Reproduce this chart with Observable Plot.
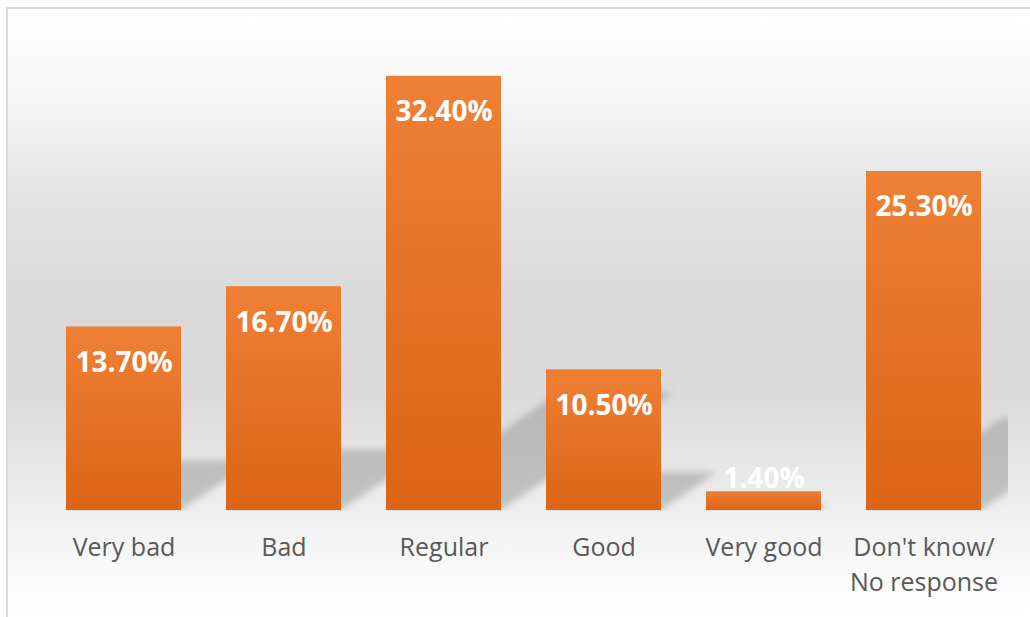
<!DOCTYPE html>
<html>
<head>
<meta charset="utf-8">
<script src="https://cdn.jsdelivr.net/npm/d3@7"></script>
<script src="https://cdn.jsdelivr.net/npm/@observablehq/plot@0.6"></script>
<style>
  html, body { margin: 0; padding: 0; background: #fff; }
  #frame {
    position: absolute; left: 6px; top: 7px; width: 1030px; height: 620px;
    border: 2px solid #d9d9d9; box-sizing: border-box;
    background: linear-gradient(to bottom, #ffffff 0%, #f6f6f6 15%, #e2e2e2 32%, #d9d9d9 50%, #dcdcdc 64%, #ededed 80%, #fbfbfb 92%, #ffffff 100%);
  }
  #chart { position: absolute; left: 0; top: 0; }
  svg { background: transparent !important; }
</style>
</head>
<body>
<div id="frame"></div>
<div id="chart"></div>
<script>
const categories = ["Very bad", "Bad", "Regular", "Good", "Very good", "Don't know/\nNo response"];
const values = [13.7, 16.7, 32.4, 10.5, 1.4, 25.3];
const labels = ["13.70%", "16.70%", "32.40%", "10.50%", "1.40%", "25.30%"];

const rows = categories.map((c, i) => ({cat: c, value: values[i], label: labels[i]}));

const FONT = "'Open Sans', Carlito, Calibri, sans-serif";

const shadows = Plot.barY(rows, {
  x: "cat", y: "value",
  render(index, scales, vals, dims) {
    const {x, y} = scales;
    const bw = x.bandwidth();
    const base = y(0);
    const g = d3.create("svg:g");
    const defs = g.append("defs");
    defs.append("filter").attr("id", "shblur").attr("x", "-50%").attr("y", "-50%").attr("width", "200%").attr("height", "200%")
      .append("feGaussianBlur").attr("stdDeviation", 3.5);
    defs.append("clipPath").attr("id", "shclip").append("rect")
      .attr("x", 0).attr("y", 0).attr("width", dims.width - 22).attr("height", base + 1);
    const inner = g.append("g").attr("clip-path", "url(#shclip)").append("g").attr("filter", "url(#shblur)");
    for (const i of index) {
      const d = rows[i];
      const x0 = x(d.cat), x1 = x0 + bw;
      const h = base - y(d.value);
      const sh = 0.27 * h, dx = 1.47 * sh;
      inner.append("polygon")
        .attr("points", [[x0, base], [x1, base], [x1 + dx, base - sh], [x0 + dx, base - sh]].map(p => p.join(",")).join(" "))
        .attr("fill", "#8c8c8c").attr("fill-opacity", 0.45);
    }
    return g.node();
  }
});

const plot = Plot.plot({
  width: 1030,
  height: 617,
  marginLeft: 41,
  marginRight: 25,
  marginTop: 41,
  marginBottom: 107,
  style: {background: "transparent"},
  x: {domain: categories, paddingInner: 0.284, paddingOuter: 0.142, axis: null},
  y: {domain: [0, 35], axis: null},
  marks: [
    shadows,
    Plot.barY(rows, {x: "cat", y: "value", fill: "url(#orangeGrad)"}),
    Plot.text(rows.filter(d => d.value >= 5), {
      x: "cat", y: "value", text: "label", dy: 36, lineAnchor: "middle",
      fill: "white", fontSize: 28, fontWeight: "bold", fontFamily: FONT
    }),
    Plot.text(rows.filter(d => d.value < 5), {
      x: "cat", y: "value", text: "label", dy: -13, lineAnchor: "middle",
      fill: "white", fontSize: 28, fontWeight: "bold", fontFamily: FONT
    }),
    Plot.text(rows, {
      x: "cat", y: 0, text: "cat", dy: 21, lineAnchor: "top", lineHeight: 1.4,
      fill: "#595959", fontSize: 25, fontFamily: FONT
    })
  ]
});

const svgSel = d3.select(plot);
const defs = svgSel.insert("defs", ":first-child");
const grad = defs.append("linearGradient").attr("id", "orangeGrad").attr("x1", 0).attr("y1", 0).attr("x2", 0).attr("y2", 1);
grad.append("stop").attr("offset", "0%").attr("stop-color", "#ee8035");
grad.append("stop").attr("offset", "100%").attr("stop-color", "#dc6415");

document.getElementById("chart").appendChild(plot);
</script>
</body>
</html>
